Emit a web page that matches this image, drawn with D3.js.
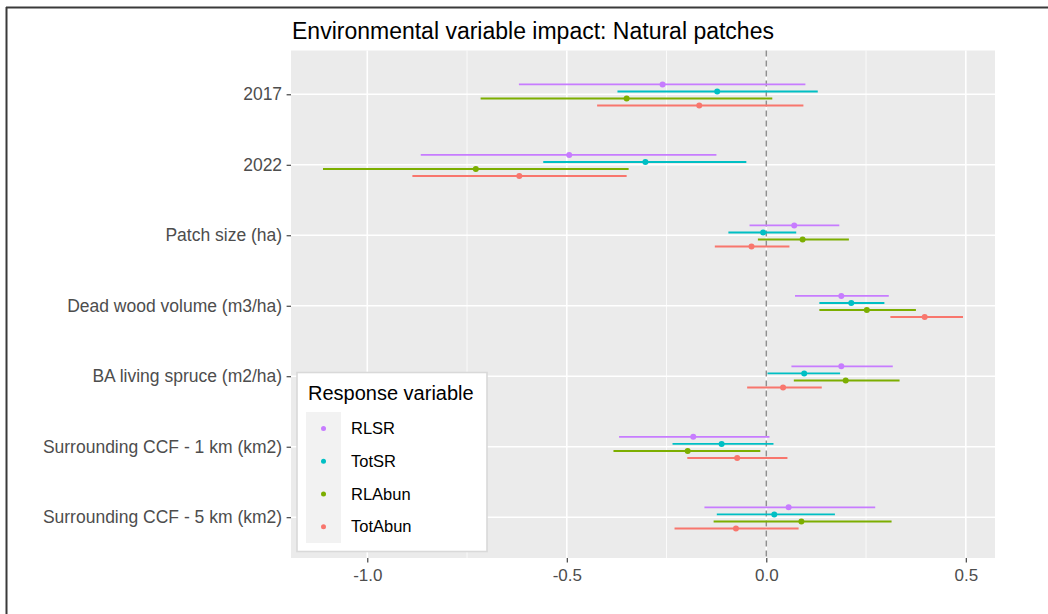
<!DOCTYPE html>
<html>
<head>
<meta charset="utf-8">
<script src="https://cdn.jsdelivr.net/npm/d3@7"></script>
<style>
  body { margin: 0; background: #fff; }
  svg { display: block; font-family: "Liberation Sans", Arial, sans-serif; }
</style>
</head>
<body>
<svg></svg>
<script>
var categories = ['2017', '2022', 'Patch size (ha)', 'Dead wood volume (m3/ha)', 'BA living spruce (m2/ha)',
	'Surrounding CCF - 1 km (km2)', 'Surrounding CCF - 5 km (km2)'];
var responses = ['RLSR', 'TotSR', 'RLAbun', 'TotAbun'];
var colors = ['#C77CFF', '#00BFC4', '#7CAE00', '#F8766D'];

// estimates and interval ends, one value per category
var rlsrEst = [-0.26, -0.494, 0.070, 0.188, 0.188, -0.183, 0.056];
var rlsrLo  = [-0.62, -0.866, -0.042, 0.072, 0.063, -0.369, -0.155];
var rlsrHi  = [0.098, -0.125, 0.183, 0.307, 0.317, 0.008, 0.273];

var totsrEst = [-0.123, -0.303, -0.008, 0.213, 0.095, -0.112, 0.02];
var totsrLo  = [-0.373, -0.559, -0.095, 0.133, 0.003, -0.235, -0.124];
var totsrHi  = [0.129, -0.05, 0.075, 0.296, 0.185, 0.018, 0.172];

var rlabunEst = [-0.35, -0.728, 0.091, 0.252, 0.199, -0.197, 0.088];
var rlabunLo  = [-0.716, -1.111, -0.021, 0.133, 0.069, -0.383, -0.132];
var rlabunHi  = [0.015, -0.345, 0.207, 0.375, 0.334, -0.015, 0.314];

var totabunEst = [-0.168, -0.619, -0.037, 0.397, 0.042, -0.073, -0.076];
var totabunLo  = [-0.424, -0.887, -0.129, 0.311, -0.048, -0.198, -0.23];
var totabunHi  = [0.093, -0.35, 0.058, 0.493, 0.139, 0.053, 0.081];

var xTicks = [-1, -0.5, 0, 0.5];
var xMinor = [-0.75, -0.25, 0.25];

var series = [
	{name: 'RLSR', est: rlsrEst, lo: rlsrLo, hi: rlsrHi},
	{name: 'TotSR', est: totsrEst, lo: totsrLo, hi: totsrHi},
	{name: 'RLAbun', est: rlabunEst, lo: rlabunLo, hi: rlabunHi},
	{name: 'TotAbun', est: totabunEst, lo: totabunLo, hi: totabunHi}
];

var rows = [];
series.forEach(function(s, si) {
	categories.forEach(function(c, ci) {
		rows.push({cat: c, resp: s.name, idx: si, est: s.est[ci], lo: s.lo[ci], hi: s.hi[ci]});
	});
});

var width = 1048;
var height = 614;
var svg = d3.select('svg')
	.attr('width', width)
	.attr('height', height);

var panel = {left: 291, right: 995, top: 50.5, bottom: 558};

var color = d3.scaleOrdinal().domain(responses).range(colors);

// ggplot style 5% expansion
var lo = d3.min(rows, d => d.lo);
var hi = d3.max(rows, d => d.hi);
var pad = (hi - lo) * 0.05;
var xScale = d3.scaleLinear()
	.domain([lo - pad, hi + pad])
	.range([panel.left, panel.right]);

var yScale = d3.scalePoint()
	.domain(categories)
	.range([panel.top + 1.5, panel.bottom + 1.5])
	.padding(0.6);

var step = yScale.step();
var dodge = d3.scalePoint()
	.domain(responses)
	.range([-0.15 * step, 0.15 * step]);

// frame of the screenshot
svg.append('line')
	.attr('x1', 6).attr('x2', width).attr('y1', 7.5).attr('y2', 7.5)
	.attr('stroke', '#3a3a3a').attr('stroke-width', 2);
svg.append('line')
	.attr('x1', 6.5).attr('x2', 6.5).attr('y1', 7).attr('y2', height)
	.attr('stroke', '#3a3a3a').attr('stroke-width', 2);

// panel
svg.append('rect')
	.attr('x', panel.left).attr('y', panel.top)
	.attr('width', panel.right - panel.left).attr('height', panel.bottom - panel.top)
	.attr('fill', '#EBEBEB');

svg.append('g').selectAll('line')
	.data(xMinor)
	.enter()
	.append('line')
	.attr('x1', d => xScale(d)).attr('x2', d => xScale(d))
	.attr('y1', panel.top).attr('y2', panel.bottom)
	.attr('stroke', '#fff').attr('stroke-width', 0.8);

svg.append('g').selectAll('line')
	.data(xTicks)
	.enter()
	.append('line')
	.attr('x1', d => xScale(d)).attr('x2', d => xScale(d))
	.attr('y1', panel.top).attr('y2', panel.bottom)
	.attr('stroke', '#fff').attr('stroke-width', 1.6);

svg.append('g').selectAll('line')
	.data(categories)
	.enter()
	.append('line')
	.attr('x1', panel.left).attr('x2', panel.right)
	.attr('y1', d => yScale(d)).attr('y2', d => yScale(d))
	.attr('stroke', '#fff').attr('stroke-width', 1.6);

// zero reference
svg.append('line')
	.attr('x1', xScale(0)).attr('x2', xScale(0))
	.attr('y1', panel.top).attr('y2', panel.bottom)
	.attr('stroke', '#8f8f8f').attr('stroke-width', 1.5)
	.attr('stroke-dasharray', '6,4');

// intervals and points
svg.append('g').selectAll('line')
	.data(rows)
	.enter()
	.append('line')
	.attr('x1', d => xScale(d.lo)).attr('x2', d => xScale(d.hi))
	.attr('y1', d => yScale(d.cat) + dodge(d.resp) + 0.7)
	.attr('y2', d => yScale(d.cat) + dodge(d.resp) + 0.7)
	.attr('stroke', d => color(d.resp))
	.attr('stroke-width', 1.9);

svg.append('g').selectAll('circle')
	.data(rows)
	.enter()
	.append('circle')
	.attr('cx', d => xScale(d.est))
	.attr('cy', d => yScale(d.cat) + dodge(d.resp) + 0.7)
	.attr('r', 3)
	.attr('fill', d => color(d.resp));

//x-axis
var xAxis = svg.append('g')
	.attr('transform', 'translate(0,' + panel.bottom + ')')
	.call(d3.axisBottom(xScale).tickValues(xTicks).tickFormat(d => d.toFixed(1)).tickSize(4.4).tickPadding(7));
xAxis.select('.domain').remove();
xAxis.selectAll('line').attr('stroke', '#333').attr('stroke-width', 1.1);
xAxis.selectAll('text')
	.attr('fill', '#4D4D4D')
	.style('font-size', '17px')
	.style('font-family', '"Liberation Sans", Arial, sans-serif');

//y-axis
var yAxis = svg.append('g')
	.attr('transform', 'translate(' + panel.left + ',0)')
	.call(d3.axisLeft(yScale).tickSize(4.4).tickPadding(4.5));
yAxis.select('.domain').remove();
yAxis.selectAll('line').attr('stroke', '#333').attr('stroke-width', 1.1);
yAxis.selectAll('text')
	.attr('fill', '#4D4D4D')
	.style('font-size', '17.5px')
	.style('font-family', '"Liberation Sans", Arial, sans-serif');

// title
svg.append('text')
	.attr('x', 292)
	.attr('y', 39)
	.attr('fill', '#000')
	.style('font-size', '23px')
	.text('Environmental variable impact: Natural patches');

// legend
var legend = svg.append('g');
legend.append('rect')
	.attr('x', 297).attr('y', 372.5)
	.attr('width', 190).attr('height', 179)
	.attr('fill', '#fff')
	.attr('stroke', '#d9d9d9').attr('stroke-width', 1.6);
legend.append('text')
	.attr('x', 308).attr('y', 400)
	.attr('fill', '#000')
	.style('font-size', '20px')
	.text('Response variable');
legend.append('rect')
	.attr('x', 306).attr('y', 412)
	.attr('width', 35).attr('height', 131)
	.attr('fill', '#F2F2F2');

var keyY = d3.scaleBand().domain(responses).range([412, 543]);
var keys = legend.selectAll('.key')
	.data(responses)
	.enter()
	.append('g')
	.attr('class', 'key');
keys.append('circle')
	.attr('cx', 323.5)
	.attr('cy', d => keyY(d) + keyY.bandwidth() / 2)
	.attr('r', 2.5)
	.attr('fill', d => color(d));
keys.append('text')
	.attr('x', 351)
	.attr('y', d => keyY(d) + keyY.bandwidth() / 2)
	.attr('dy', '0.35em')
	.attr('fill', '#000')
	.style('font-size', '16.5px')
	.text(d => d);
</script>
</body>
</html>
